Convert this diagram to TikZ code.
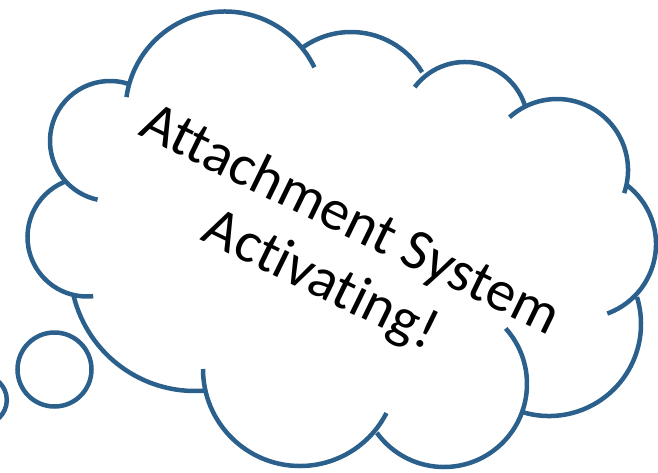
\documentclass[tikz,border=0pt]{standalone}
\usepackage{fontspec}
\setmainfont[Ligatures=NoCommon]{Carlito}
\usepackage{tikz}
\definecolor{cloudblue}{RGB}{44,96,140}

\begin{document}
\begin{tikzpicture}[x=1pt,y=1pt,
    lobe/.style={draw=cloudblue, line width=4.5pt},
    thought/.style={font=\fontsize{58}{67}\selectfont, rotate=-26, anchor=base, inner sep=0pt}]
            \useasboundingbox (0,0) rectangle (658,-472);

            % top row, left to right
            \draw[lobe] (225,-111) ++(26:99.5) arc[start angle=26, end angle=172, radius=99.5];
            \draw[lobe] (351,-115) ++(31:83) arc[start angle=31, end angle=125, radius=83];
            \draw[lobe] (465,-125) ++(18:63) arc[start angle=18, end angle=143, radius=63];
            \draw[lobe] (557,-170) ++(-19:71) arc[start angle=-19, end angle=132, radius=71];

            % right side
            \draw[lobe] (582,-244) ++(-70:74) arc[start angle=-70, end angle=53, radius=74];
            \draw[lobe] (549,-324) ++(-106:92) arc[start angle=-106, end angle=17, radius=92];

            % bottom row, right to left
            \draw[lobe] (444,-384) ++(-144:83) arc[start angle=-144, end angle=42, radius=83];
            \draw[lobe] (300,-369) ++(-180:97) arc[start angle=-180, end angle=-27, radius=97];
            \draw[lobe] (195,-266) ++(194:125) arc[start angle=194, end angle=274, radius=125];

            % left side
            \draw[lobe] (87,-237) ++(112:59.5) arc[start angle=112, end angle=276, radius=59.5];
            \draw[lobe] (110,-141) ++(71:60) arc[start angle=71, end angle=258, radius=60];

            % trail of bubbles
            \draw[lobe] (54.5,-369.5) circle[radius=37];
            \draw[lobe] (-17.7,-400) circle[radius=24.5];

            \node[thought] (line1) at (343,-235) {Attachment System};
            \node[thought] (line2) at (313.5,-295) {Activating!};
        \end{tikzpicture}
\end{document}
